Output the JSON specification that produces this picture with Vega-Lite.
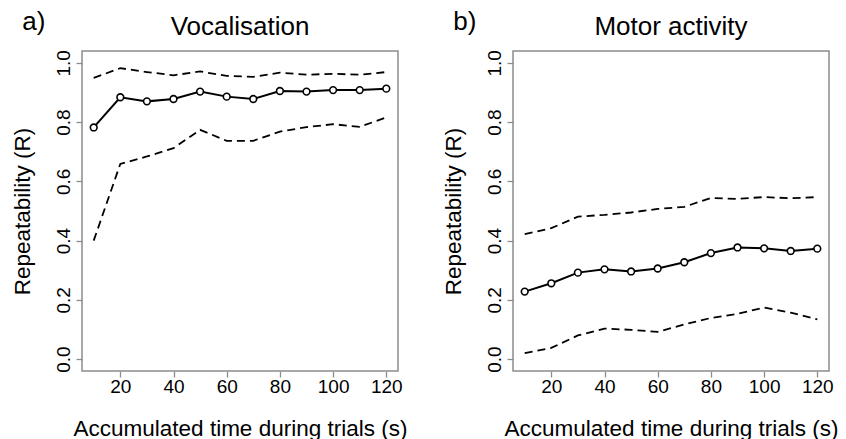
{
  "$schema": "https://vega.github.io/schema/vega-lite/v6.json",
  "padding": {"left": 10, "top": 8, "right": 5, "bottom": 5},
  "background": "white",
  "spacing": 33,
  "config": {
    "font": "Liberation Sans",
    "view": {"stroke": "#8c8c8c", "strokeWidth": 1.5},
    "axis": {
      "grid": false,
      "domain": false,
      "tickColor": "#8c8c8c",
      "tickWidth": 1.3,
      "tickSize": 6,
      "labelFont": "Liberation Sans",
      "labelFontSize": 19,
      "labelColor": "#000000",
      "labelFlush": false,
      "labelOverlap": false,
      "titleFont": "Liberation Sans",
      "titleFontSize": 22.5,
      "titleFontWeight": "normal",
      "titleColor": "#000000"
    },
    "title": {"font": "Liberation Sans", "fontSize": 26, "fontWeight": "normal", "color": "#000000"}
  },
  "data": {
    "values": [
      {"panel": "a", "time": 10, "R": 0.782, "lower": 0.400, "upper": 0.949},
      {"panel": "a", "time": 20, "R": 0.884, "lower": 0.659, "upper": 0.982},
      {"panel": "a", "time": 30, "R": 0.870, "lower": 0.684, "upper": 0.969},
      {"panel": "a", "time": 40, "R": 0.878, "lower": 0.712, "upper": 0.958},
      {"panel": "a", "time": 50, "R": 0.903, "lower": 0.774, "upper": 0.971},
      {"panel": "a", "time": 60, "R": 0.886, "lower": 0.737, "upper": 0.956},
      {"panel": "a", "time": 70, "R": 0.878, "lower": 0.737, "upper": 0.953},
      {"panel": "a", "time": 80, "R": 0.905, "lower": 0.768, "upper": 0.967},
      {"panel": "a", "time": 90, "R": 0.903, "lower": 0.783, "upper": 0.960},
      {"panel": "a", "time": 100, "R": 0.908, "lower": 0.793, "upper": 0.963},
      {"panel": "a", "time": 110, "R": 0.908, "lower": 0.784, "upper": 0.960},
      {"panel": "a", "time": 120, "R": 0.913, "lower": 0.816, "upper": 0.969},
      {"panel": "b", "time": 10, "R": 0.228, "lower": 0.020, "upper": 0.422},
      {"panel": "b", "time": 20, "R": 0.256, "lower": 0.038, "upper": 0.442},
      {"panel": "b", "time": 30, "R": 0.292, "lower": 0.080, "upper": 0.481},
      {"panel": "b", "time": 40, "R": 0.303, "lower": 0.103, "upper": 0.487},
      {"panel": "b", "time": 50, "R": 0.296, "lower": 0.099, "upper": 0.495},
      {"panel": "b", "time": 60, "R": 0.306, "lower": 0.092, "upper": 0.507},
      {"panel": "b", "time": 70, "R": 0.327, "lower": 0.117, "upper": 0.514},
      {"panel": "b", "time": 80, "R": 0.358, "lower": 0.139, "upper": 0.544},
      {"panel": "b", "time": 90, "R": 0.377, "lower": 0.153, "upper": 0.541},
      {"panel": "b", "time": 100, "R": 0.374, "lower": 0.174, "upper": 0.547},
      {"panel": "b", "time": 110, "R": 0.365, "lower": 0.157, "upper": 0.543},
      {"panel": "b", "time": 120, "R": 0.373, "lower": 0.134, "upper": 0.547}
    ]
  },
  "hconcat": [
    {
      "title": {"text": "a)", "anchor": "start", "frame": "bounds", "dx": 12, "dy": 26},
      "vconcat": [
        {
          "title": {"text": "Vocalisation", "anchor": "middle", "offset": 10},
          "width": 316,
          "height": 320,
          "transform": [{"filter": "datum.panel === 'a'"}],
          "encoding": {
            "x": {
              "field": "time", "type": "quantitative",
              "scale": {"domain": [5.6, 124.4], "nice": false, "zero": false},
              "axis": {"values": [20, 40, 60, 80, 100, 120], "title": "Accumulated time during trials (s)", "labelPadding": 0, "titlePadding": 21}
            }
          },
          "layer": [
            {
              "transform": [{"fold": ["lower", "upper"], "as": ["bound", "value"]}],
              "mark": {"type": "line", "color": "#000000", "strokeWidth": 1.8, "strokeDash": [8, 5]},
              "encoding": {
                "detail": {"field": "bound"},
                "y": {"field": "value", "type": "quantitative", "scale": {"domain": [-0.04, 1.04], "nice": false, "zero": false},
                  "axis": {"values": [0, 0.2, 0.4, 0.6, 0.8, 1.0], "format": ".1f", "labelAngle": -90, "labelAlign": "center", "labelBaseline": "alphabetic", "labelPadding": 7, "title": "Repeatability (R)", "titlePadding": 20}}
              }
            },
            {
              "mark": {"type": "line", "color": "#000000", "strokeWidth": 2},
              "encoding": {"y": {"field": "R", "type": "quantitative", "title": "Repeatability (R)"}}
            },
            {
              "mark": {"type": "point", "shape": "circle", "filled": true, "fill": "#ffffff", "stroke": "#000000", "strokeWidth": 1.6, "size": 45, "opacity": 1},
              "encoding": {"y": {"field": "R", "type": "quantitative", "title": "Repeatability (R)"}}
            }
          ]
        }
      ]
    },
    {
      "title": {"text": "b)", "anchor": "start", "frame": "bounds", "dx": 12, "dy": 26},
      "vconcat": [
        {
          "title": {"text": "Motor activity", "anchor": "middle", "offset": 10},
          "width": 316,
          "height": 320,
          "transform": [{"filter": "datum.panel === 'b'"}],
          "encoding": {
            "x": {
              "field": "time", "type": "quantitative",
              "scale": {"domain": [5.6, 124.4], "nice": false, "zero": false},
              "axis": {"values": [20, 40, 60, 80, 100, 120], "title": "Accumulated time during trials (s)", "labelPadding": 0, "titlePadding": 21}
            }
          },
          "layer": [
            {
              "transform": [{"fold": ["lower", "upper"], "as": ["bound", "value"]}],
              "mark": {"type": "line", "color": "#000000", "strokeWidth": 1.8, "strokeDash": [8, 5]},
              "encoding": {
                "detail": {"field": "bound"},
                "y": {"field": "value", "type": "quantitative", "scale": {"domain": [-0.04, 1.04], "nice": false, "zero": false},
                  "axis": {"values": [0, 0.2, 0.4, 0.6, 0.8, 1.0], "format": ".1f", "labelAngle": -90, "labelAlign": "center", "labelBaseline": "alphabetic", "labelPadding": 7, "title": "Repeatability (R)", "titlePadding": 20}}
              }
            },
            {
              "mark": {"type": "line", "color": "#000000", "strokeWidth": 2},
              "encoding": {"y": {"field": "R", "type": "quantitative", "title": "Repeatability (R)"}}
            },
            {
              "mark": {"type": "point", "shape": "circle", "filled": true, "fill": "#ffffff", "stroke": "#000000", "strokeWidth": 1.6, "size": 45, "opacity": 1},
              "encoding": {"y": {"field": "R", "type": "quantitative", "title": "Repeatability (R)"}}
            }
          ]
        }
      ]
    }
  ]
}
